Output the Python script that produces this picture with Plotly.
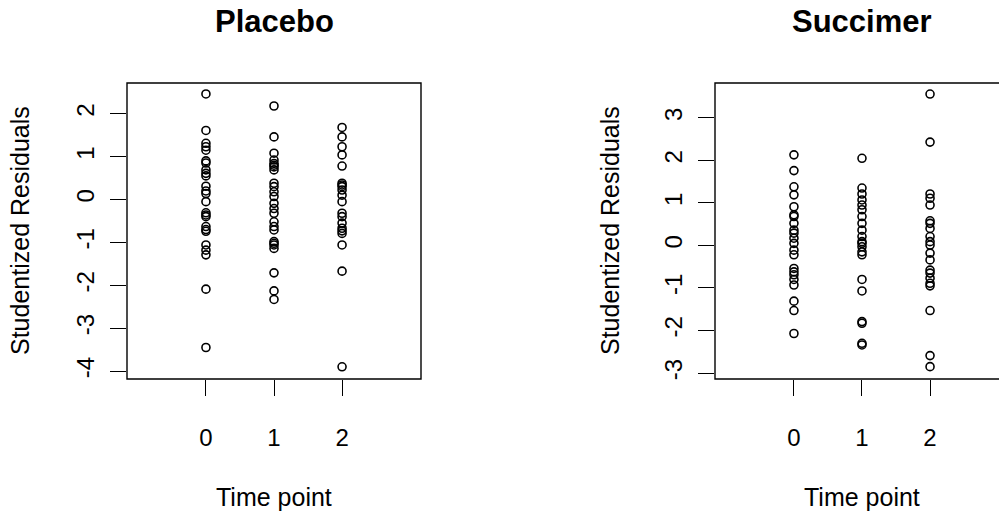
import plotly.graph_objects as go

# ---- data ----
time_ticks = [0, 1, 2]
tick_text = ["0", "1", "2"]

placebo_t0 = [2.46, 1.61, 1.31, 1.23, 1.15, 0.90, 0.85, 0.69, 0.61, 0.55, 0.31, 0.20, 0.14,
              -0.05, -0.31, -0.36, -0.40, -0.63, -0.70, -0.74, -1.06, -1.18, -1.29, -2.09, -3.45]
placebo_t1 = [2.18, 1.46, 1.08, 0.92, 0.84, 0.80, 0.76, 0.69, 0.38, 0.30, 0.18, 0.07, -0.09,
              -0.21, -0.32, -0.52, -0.63, -0.71, -0.98, -1.02, -1.06, -1.14, -1.71, -2.13, -2.33]
placebo_t2 = [1.68, 1.46, 1.23, 1.04, 0.78, 0.38, 0.34, 0.30, 0.22, 0.10, -0.05, -0.32, -0.40,
              -0.55, -0.67, -0.73, -0.79, -1.06, -1.67, -3.90]

succimer_t0 = [2.13, 1.76, 1.38, 1.19, 0.91, 0.72, 0.68, 0.52, 0.36, 0.29, 0.17, 0.05, -0.11,
               -0.22, -0.54, -0.62, -0.69, -0.80, -0.93, -1.31, -1.53, -2.07]
succimer_t1 = [2.05, 1.35, 1.21, 1.07, 0.95, 0.84, 0.68, 0.52, 0.36, 0.21, 0.09, 0.05, -0.03,
               -0.15, -0.22, -0.80, -1.07, -1.79, -1.83, -2.30, -2.34]
succimer_t2 = [3.56, 2.43, 1.21, 1.11, 0.95, 0.58, 0.52, 0.40, 0.21, 0.09, 0.01, -0.18, -0.34,
               -0.58, -0.65, -0.77, -0.89, -0.95, -1.53, -2.59, -2.85]

placebo = [placebo_t0, placebo_t1, placebo_t2]
succimer = [succimer_t0, succimer_t1, succimer_t2]

placebo_yticks = [2, 1, 0, -1, -2, -3, -4]
succimer_yticks = [3, 2, 1, 0, -1, -2, -3]

W, H = 999, 514
FONT = "Liberation Sans, Arial, Helvetica, sans-serif"


def flatten(groups):
    xs, ys = [], []
    for t, vals in zip(time_ticks, groups):
        xs += [t] * len(vals)
        ys += vals
    return xs, ys


fig = go.Figure()
marker = dict(symbol="circle-open", size=8, color="black", line=dict(width=1.6, color="black"))

px0, py0 = flatten(placebo)
fig.add_trace(go.Scatter(x=px0, y=py0, mode="markers", marker=marker, xaxis="x", yaxis="y",
                         showlegend=False, cliponaxis=False))
sx0, sy0 = flatten(succimer)
fig.add_trace(go.Scatter(x=sx0, y=sy0, mode="markers", marker=marker, xaxis="x2", yaxis="y2",
                         showlegend=False, cliponaxis=False))

# plot-region geometry (pixels)
L1, R1 = 127, 421
L2, R2 = 715, 1009
TOP, BOT = 83, 379
ydom = [(H - BOT) / H, (H - TOP) / H]

common_x = dict(tickmode="array", tickvals=time_ticks, ticktext=tick_text, ticks="outside",
                ticklen=16, tickwidth=1.3, tickcolor="black", showgrid=False, zeroline=False,
                showline=False, tickfont=dict(family=FONT, size=24, color="black"),
                ticklabelstandoff=21)
common_y = dict(tickmode="array", ticks="outside", ticklen=16, tickwidth=1.3, tickcolor="black",
                showgrid=False, zeroline=False, showline=False, tickangle=-90,
                tickfont=dict(family=FONT, size=24, color="black"), ticklabelstandoff=6)

fig.update_layout(
    width=W, height=H, margin=dict(l=0, r=0, t=0, b=0),
    paper_bgcolor="white", plot_bgcolor="white",
    xaxis=dict(domain=[L1 / W, R1 / W], range=[-1.16, 3.16], anchor="y", **common_x),
    yaxis=dict(domain=ydom, range=[-4.184, 2.716], anchor="x", tickvals=placebo_yticks,
               ticktext=[str(v) for v in placebo_yticks], **common_y),
    xaxis2=dict(domain=[L2 / W, 1.0], range=[-1.16, -1.16 + (W - L2) / 68.05], anchor="y2",
                **common_x),
    yaxis2=dict(domain=ydom, range=[-3.14, 3.82], anchor="x2", tickvals=succimer_yticks,
                ticktext=[str(v) for v in succimer_yticks], **common_y),
)

# boxes (right one extends past the page edge, as in the reference)
for xr, yr, x1 in [("x domain", "y domain", 1.0), ("x2 domain", "y2 domain", (R2 - L2) / (W - L2))]:
    fig.add_shape(type="rect", xref=xr, yref=yr, x0=0, x1=x1, y0=0, y1=1,
                  line=dict(color="black", width=1.4), fillcolor="rgba(0,0,0,0)", layer="above")

ann = []
for title, L, R in [("Placebo", L1, R1), ("Succimer", L2, R2)]:
    cx = (L + R) / 2 / W
    ann.append(dict(text=title, x=cx, y=1 - 22 / H, xref="paper", yref="paper", showarrow=False,
                    xanchor="center", yanchor="middle",
                    font=dict(family=FONT, size=31, color="black", weight="bold")))
    ann.append(dict(text="Time point", x=cx, y=1 - 497 / H, xref="paper", yref="paper",
                    showarrow=False, xanchor="center", yanchor="middle",
                    font=dict(family=FONT, size=25, color="black")))
for xc in [20, 610]:
    ann.append(dict(text="Studentized Residuals", x=xc / W, y=1 - ((TOP + BOT) / 2) / H,
                    xref="paper", yref="paper", showarrow=False, textangle=-90,
                    xanchor="center", yanchor="middle",
                    font=dict(family=FONT, size=25, color="black")))
fig.update_layout(annotations=ann)

fig.write_html("out.html")
